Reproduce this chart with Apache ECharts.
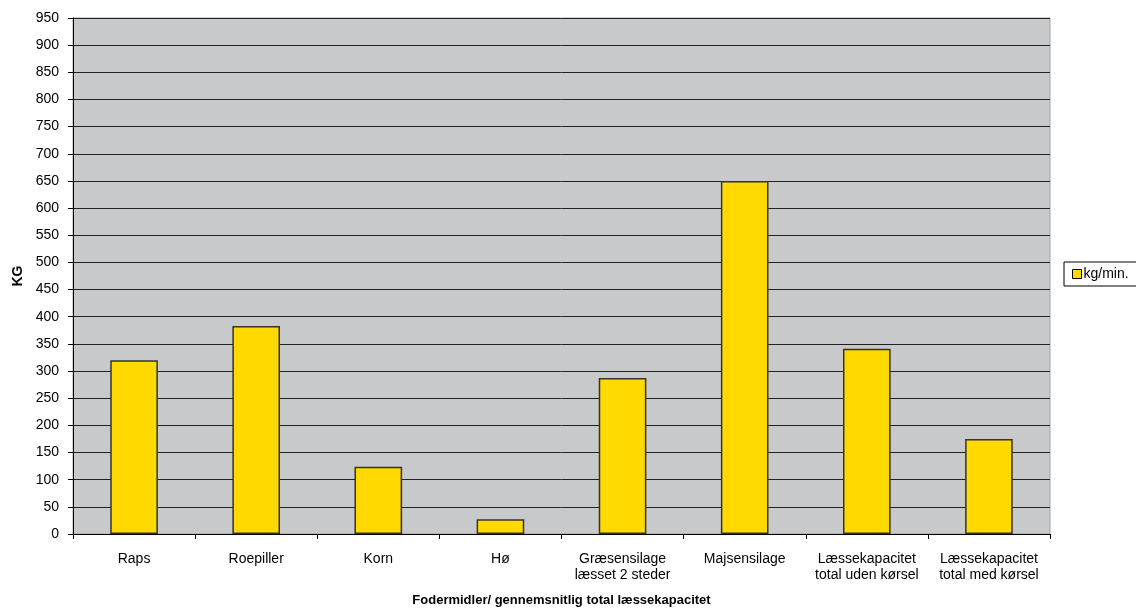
<!DOCTYPE html>
<html>
<head>
<meta charset="utf-8">
<script src="https://cdn.jsdelivr.net/npm/echarts@6/dist/echarts.min.js"></script>
<style>
  html, body { margin: 0; padding: 0; background: #ffffff; }
  #chart { width: 1136px; height: 610px; }
</style>
</head>
<body>
<div id="chart"></div>
<script>
// Loading capacity per feedstuff (kg per minute)
const categories = [
  'Raps',
  'Roepiller',
  'Korn',
  'Hø',
  'Græsensilage\nlæsset 2 steder',
  'Majsensilage',
  'Læssekapacitet\ntotal uden kørsel',
  'Læssekapacitet\ntotal med kørsel'
];
const kgPerMin = [320, 383, 124, 27, 287, 650, 341, 175];
const seriesName = 'kg/min.';
const yAxisName = 'KG';
const xAxisName = 'Fodermidler/ gennemsnitlig total læssekapacitet';

const font = 'Liberation Sans, Arial, sans-serif';
const chart = echarts.init(document.getElementById('chart'));

chart.setOption({
  animation: false,
  backgroundColor: '#ffffff',
  textStyle: { fontFamily: font },
  grid: {
    left: 73, right: 86, top: 18, bottom: 76,
    outerBoundsMode: 'none',
    containLabel: false,
    show: true,
    backgroundColor: '#c8c9cb',
    borderColor: '#a0a0a0',
    borderWidth: 1
  },
  legend: {
    data: [seriesName],
    left: 1064, top: 262,
    orient: 'vertical',
    backgroundColor: '#ffffff',
    borderColor: '#000000',
    borderWidth: 1,
    borderRadius: 0,
    padding: [5, 20, 5, 8],
    itemWidth: 9, itemHeight: 9,
    itemGap: 0,
    icon: 'rect',
    itemStyle: { borderColor: '#000000', borderWidth: 1 },
    textStyle: { fontFamily: font, fontSize: 14, color: '#000000', padding: [0, 0, 0, -3] }
  },
  xAxis: {
    type: 'category',
    data: categories,
    name: xAxisName,
    nameLocation: 'middle',
    nameGap: 60,
    nameTextStyle: { fontFamily: font, fontSize: 13, fontWeight: 'bold', color: '#000000' },
    axisLine: { lineStyle: { color: '#000000', width: 1 } },
    axisTick: { show: true, alignWithLabel: false, length: 5, lineStyle: { color: '#000000' } },
    axisLabel: {
      interval: 0, margin: 17,
      fontFamily: font, fontSize: 14, color: '#000000', lineHeight: 16
    }
  },
  yAxis: {
    type: 'value',
    min: 0, max: 950, interval: 50,
    name: yAxisName,
    nameLocation: 'middle',
    nameGap: 48,
    nameRotate: 90,
    nameTextStyle: { fontFamily: font, fontSize: 14, fontWeight: 'bold', color: '#000000' },
    axisLine: { show: true, lineStyle: { color: '#000000', width: 1 } },
    axisTick: { show: true, length: 5, lineStyle: { color: '#000000' } },
    axisLabel: { margin: 14, fontFamily: font, fontSize: 14, color: '#000000' },
    splitLine: { show: true, lineStyle: { color: '#222222', width: 1 } }
  },
  series: [{
    name: seriesName,
    type: 'bar',
    data: kgPerMin,
    barWidth: '39%',
    itemStyle: {
      color: '#ffd900',
      borderColor: '#333333',
      borderWidth: 1.5
    }
  }]
});
</script>
</body>
</html>
